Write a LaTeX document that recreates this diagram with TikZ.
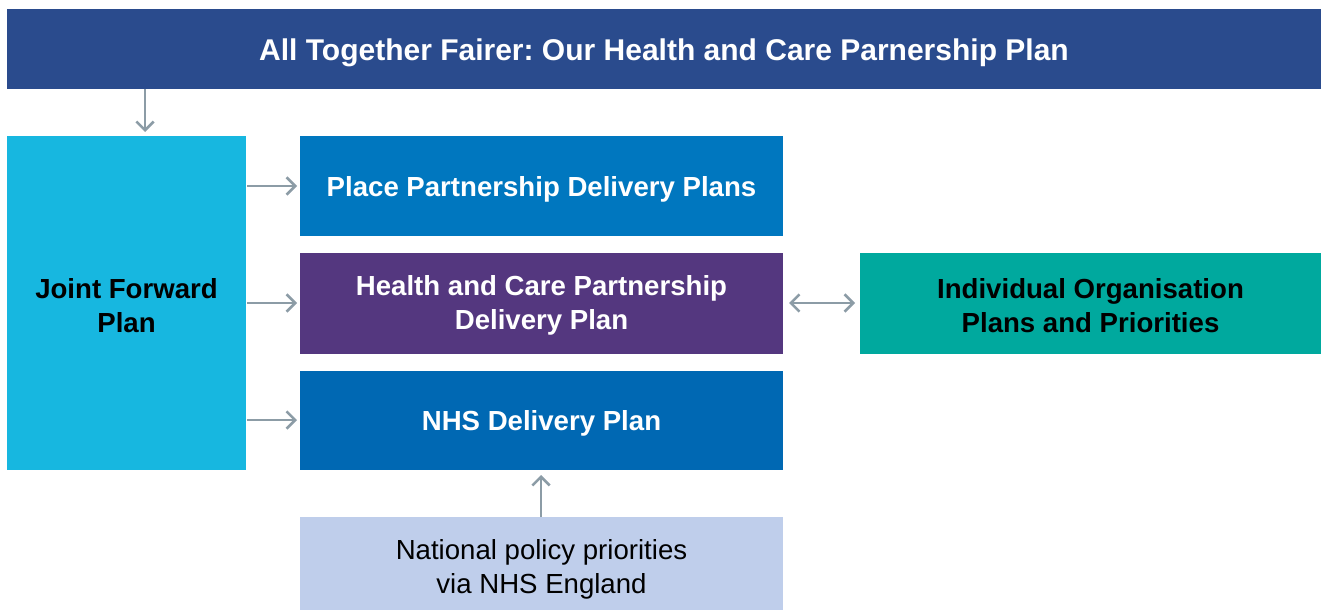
\documentclass[tikz,border=0pt]{standalone}
\usepackage{fontspec}
\setmainfont{Liberation Sans}
\usetikzlibrary{arrows.meta}
\frenchspacing
\definecolor{topblue}{HTML}{2A4B8D}
\definecolor{cyanbox}{HTML}{17B7E0}
\definecolor{placeblue}{HTML}{0077BF}
\definecolor{purplebox}{HTML}{54377F}
\definecolor{nhsblue}{HTML}{0068B3}
\definecolor{tealbox}{HTML}{00A99E}
\definecolor{lightbox}{HTML}{BFCEEB}
\definecolor{arrowgray}{HTML}{8C9CA6}
\tikzset{
  box/.style={draw=none, inner sep=0pt, align=center, font=\fontsize{20.7}{25.5}\selectfont\bfseries},
  mytip/.tip={Straight Barb[length=6.5pt,width=13pt,line width=1.9pt]},
  conn/.style={draw=arrowgray, line width=1.9pt, -{mytip}},
  conn2/.style={draw=arrowgray, line width=1.9pt, {mytip}-{mytip}}
}
\begin{document}
\begin{tikzpicture}[x=0.75pt,y=-0.75pt]
\useasboundingbox (0,0) rectangle (1323,610);
\fill[topblue] (7,9) rectangle (1321,89);
\node[box, text=white, font=\fontsize{22.5}{25.5}\selectfont\bfseries] (top) at (664,53) {All Together Fairer: Our Health and Care Parnership Plan};
\fill[cyanbox] (7,136) rectangle (246,470);
\node[box, text=black] (jfp) at (126.5,305.5) {Joint Forward\\Plan};
\fill[placeblue] (300,136) rectangle (783,236);
\node[box, text=white] (place) at (541.5,189) {Place Partnership Delivery Plans};
\fill[purplebox] (300,253) rectangle (783,354);
\node[box, text=white] (hcp) at (541.5,305.5) {Health and Care Partnership\\Delivery Plan};
\fill[nhsblue] (300,371) rectangle (783,470);
\node[box, text=white] (nhs) at (541.5,423.5) {NHS Delivery Plan};
\fill[tealbox] (860,253) rectangle (1321,354);
\node[box, text=black] (ind) at (1090.5,305.5) {Individual Organisation\\Plans and Priorities};
\fill[lightbox] (300,517) rectangle (783,610);
\node[box, text=black, font=\fontsize{20.7}{25.5}\selectfont] (nat) at (541.5,569.5) {National policy priorities\\via NHS England};
% connectors
\coordinate (a1s) at (145,89); \coordinate (a1e) at (145,132);
\draw[conn] (a1s) -- (a1e);
\coordinate (b1s) at (247,186); \coordinate (b1e) at (297,186);
\draw[conn] (b1s) -- (b1e);
\coordinate (b2s) at (247,303); \coordinate (b2e) at (297,303);
\draw[conn] (b2s) -- (b2e);
\coordinate (b3s) at (247,420); \coordinate (b3e) at (297,420);
\draw[conn] (b3s) -- (b3e);
\coordinate (c1s) at (789,303); \coordinate (c1e) at (855,303);
\draw[conn2] (c1s) -- (c1e);
\coordinate (d1s) at (541,517); \coordinate (d1e) at (541,475);
\draw[conn] (d1s) -- (d1e);
\end{tikzpicture}
\end{document}
